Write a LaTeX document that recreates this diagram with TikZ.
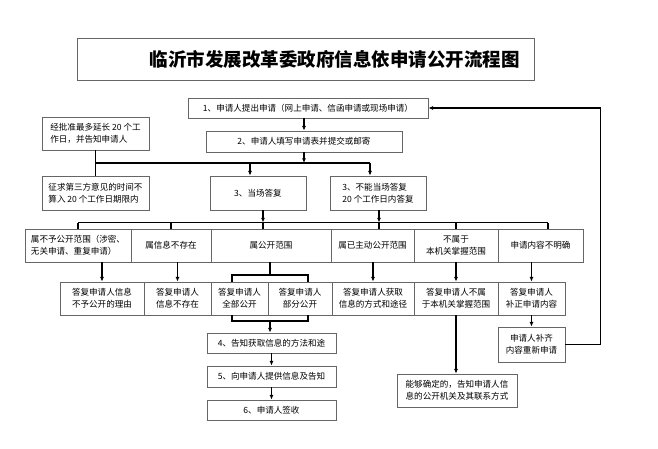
\documentclass[tikz,border=0pt]{standalone}
\usepackage{fontspec}
\setmainfont{Noto Sans CJK SC}
\usetikzlibrary{arrows.meta, positioning}

\begin{document}
\begin{tikzpicture}[
    x=0.03cm, y=-0.03cm,
    font=\fontsize{7.3}{10.5}\selectfont,
    box/.style={rectangle, draw=black!60, line width=0.7pt, inner sep=1pt, align=center},
    sz/.style 2 args={minimum width=#1*0.03cm, minimum height=#2*0.03cm},
    line/.style={draw, line width=0.9pt},
    arr/.style={line, -{Latex[length=4pt, width=3.5pt]}}
  ]
\useasboundingbox (0,0) rectangle (658,449);

% Title
\node[box, sz={457}{42}, text width=12.87cm, inner xsep=0.42cm, align=right] (title) at (305.5,59)
  {\fontsize{15.8}{18}\selectfont\bfseries 临沂市发展改革委政府信息依申请公开流程图};

% Nodes
\node[box, sz={240}{20}] (apply) at (308,108) {1、申请人提出申请（网上申请、信函申请或现场申请）};
\node[box, sz={196}{21}] (form) at (304,141.5) {2、申请人填写申请表并提交或邮寄};
\node[box, sz={107}{33}, align=left] (extend) at (95.5,133.5) {经批准最多延长 20 个工\\作日，并告知申请人};
\node[box, sz={107}{34}, align=left] (third) at (95.5,193) {征求第三方意见的时间不\\算入 20 个工作日期限内};
\node[box, sz={96}{34}] (spot) at (258,193) {3、当场答复};
\node[box, sz={96}{34}, align=left] (later) at (378,193) {3、不能当场答复\\20 个工作日内答复};

% Category row
\node[box, sz={106}{33}, align=left] (r4a) at (78,245.5) {属不予公开范围（涉密、\\无关申请、重复申请）};
\node[box, sz={80}{33}] (r4b) at (171,245.5) {属信息不存在};
\node[box, sz={120}{33}] (r4c) at (271,245.5) {属公开范围};
\node[box, sz={83}{33}] (r4d) at (372.5,245.5) {属已主动公开范围};
\node[box, sz={84}{33}] (r4e) at (456,245.5) {不属于\\本机关掌握范围};
\node[box, sz={85}{33}] (r4f) at (540.5,245.5) {申请内容不明确};

% Reply row
\node[box, sz={84}{33}] (r5a) at (102,298.5) {答复申请人信息\\不予公开的理由};
\node[box, sz={67}{33}] (r5b) at (177.5,298.5) {答复申请人\\信息不存在};
\node[box, sz={57}{33}] (r5c) at (239.5,298.5) {答复申请人\\全部公开};
\node[box, sz={64}{33}] (r5d) at (300,298.5) {答复申请人\\部分公开};
\node[box, sz={82}{33}] (r5e) at (373,298.5) {答复申请人获取\\信息的方式和途径};
\node[box, sz={84}{33}] (r5f) at (456,298.5) {答复申请人不属\\于本机关掌握范围};
\node[box, sz={67}{33}] (r5g) at (531.5,298.5) {答复申请人\\补正申请内容};

% Lower steps
\node[box, sz={129}{20}] (step4) at (271.5,343) {4、告知获取信息的方法和途};
\node[box, sz={129}{21}] (step5) at (271.5,376.5) {5、向申请人提供信息及告知};
\node[box, sz={129}{20}] (step6) at (271.5,410) {6、申请人签收};
\node[box, sz={120}{33}] (locate) at (457,390.5) {能够确定的，告知申请人信\\息的公开机关及其联系方式};
\node[box, sz={67}{35}] (resubmit) at (531.5,344.5) {申请人补齐\\内容重新申请};

% Arrows
\coordinate (split1) at (304,163);
\coordinate (toSpot) at (250,163);
\coordinate (toLater) at (370,163);
\draw[arr] (apply.south -| form.north) -- (form.north);
\draw[arr] (form.south) -- (split1);
\draw[line] (extend.south) -- (third.north);
\draw[line] (extend.south |- split1) -- (toLater);
\draw[arr] (toSpot) -- (toSpot |- spot.north);
\draw[arr] (toLater) -- (toLater |- later.north);

\coordinate (d3) at (263,222.5);
\coordinate (d4) at (379,222.5);
\coordinate (d6) at (548,222.5);
\draw[arr] (d3 |- spot.south) -- (d3);
\draw[arr] (d4 |- later.south) -- (d4);
\draw[line] (r4a.north |- d3) -- (d6);
\foreach \n in {r4a,r4b,r4e}
  \draw[line] (\n.north |- d3) -- (\n.north);
\draw[line] (d3) -- (d3 |- r4c.north);
\draw[line] (d4) -- (d4 |- r4d.north);
\draw[line] (d6) -- (d6 |- r4f.north);

\foreach \a/\b in {r4a/r5a, r4b/r5b, r4d/r5e, r4e/r5f, r4f/r5g}
  \draw[arr] (\b.north |- \a.south) -- (\b.north);

% Brackets round the two public replies
\coordinate (brL) at (232,275);
\coordinate (brR) at (308,275);
\coordinate (brB) at (270,321);
\draw[line] (r4c.south -| brB) -- (brB |- brL);
\draw[line] (brL |- r5c.north) -- (brL) -- (brR) -- (brR |- r5d.north);
\draw[line] (brL |- r5c.south) -- (brL |- brB) -- (brR |- brB) -- (brR |- r5d.south);
\draw[arr] (brB) -- (brB |- step4.north);
\draw[arr] (step4) -- (step5);
\draw[arr] (step5) -- (step6);
\draw[arr] (r5f.south) -- (r5f.south |- locate.north);
\draw[arr] (r5g) -- (resubmit);
\draw[arr] (resubmit.east) -- ++(35,0) |- (apply.east);

\end{tikzpicture}
\end{document}
